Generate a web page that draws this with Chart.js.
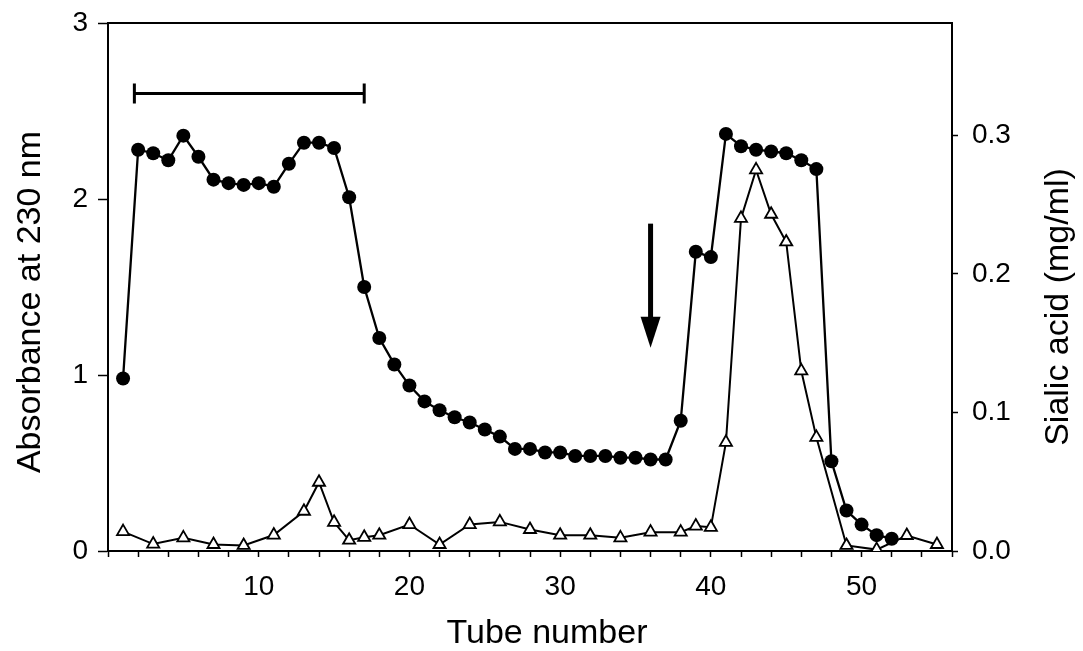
<!DOCTYPE html>
<html>
<head>
<meta charset="utf-8">
<script src="https://cdn.jsdelivr.net/npm/chart.js@4.4.1/dist/chart.umd.min.js"></script>
<style>
html,body{margin:0;padding:0;background:#fff;}
#wrap{width:1083px;height:651px;}
</style>
</head>
<body>
<div id="wrap"><canvas id="c" width="1083" height="651"></canvas></div>
<script>
// ---- data ----
const tubesAbs = [1,2,3,4,5,6,7,8,9,10,11,12,13,14,15,16,17,18,19,20,21,22,23,24,25,26,27,28,29,30,31,32,33,34,35,36,37,38,39,40,41,42,43,44,45,46,47,48,49,50,51,52];
const absorbance = [0.98,2.28,2.26,2.22,2.36,2.24,2.11,2.09,2.08,2.09,2.07,2.20,2.32,2.32,2.29,2.01,1.50,1.21,1.06,0.94,0.85,0.80,0.76,0.73,0.69,0.65,0.58,0.58,0.56,0.56,0.54,0.54,0.54,0.53,0.53,0.52,0.52,0.74,1.70,1.67,2.37,2.30,2.28,2.27,2.26,2.22,2.17,0.51,0.23,0.15,0.09,0.07];
const tubesSia = [1,3,5,7,9,11,13,14,15,16,17,18,20,22,24,26,28,30,32,34,36,38,39,40,41,42,43,44,45,46,47,49,51,53,55];
const sialic = [0.014,0.005,0.0095,0.0047,0.004,0.0115,0.0287,0.0496,0.0207,0.0078,0.0099,0.0114,0.0191,0.0047,0.0191,0.021,0.0155,0.0114,0.0114,0.0095,0.0136,0.0136,0.018,0.0171,0.0784,0.240,0.275,0.243,0.223,0.130,0.082,0.004,0.001,0.0112,0.0047];
const xTickLabels = [10,20,30,40,50];
const leftTicks = [0,1,2,3];
const rightTicks = [0.0,0.1,0.2,0.3];
// annotations (data units)
const barRange = [1.75, 17];
const barLevel = 2.60;
const arrowTube = 36;
const arrowFromTo = [1.86, 1.155];
const xTitle = 'Tube number';
const yLeftTitle = 'Absorbance at 230 nm';
const yRightTitle = 'Sialic acid (mg/ml)';

const FONT = '"Liberation Sans", Arial, Helvetica, sans-serif';

const absData = tubesAbs.map((t,i)=>({x:t,y:absorbance[i]}));
const siaData = tubesSia.map((t,i)=>({x:t,y:sialic[i]}));

const decor = {
  id:'decor',
  afterDraw(chart){
    const ctx = chart.ctx, a = chart.chartArea;
    const xs = chart.scales.x, yl = chart.scales.y;
    ctx.save();
    // top frame line
    ctx.strokeStyle='#000'; ctx.lineWidth=2;
    ctx.beginPath(); ctx.moveTo(a.left-1, a.top); ctx.lineTo(a.right+1, a.top); ctx.stroke();
    // horizontal bar
    const bx1 = xs.getPixelForValue(barRange[0]), bx2 = xs.getPixelForValue(barRange[1]);
    const by = yl.getPixelForValue(barLevel);
    ctx.lineWidth=3;
    ctx.beginPath(); ctx.moveTo(bx1,by); ctx.lineTo(bx2,by); ctx.stroke();
    ctx.beginPath(); ctx.moveTo(bx1,by-10); ctx.lineTo(bx1,by+10);
    ctx.moveTo(bx2,by-10); ctx.lineTo(bx2,by+10); ctx.stroke();
    // arrow
    const ax = xs.getPixelForValue(arrowTube);
    const ay1 = yl.getPixelForValue(arrowFromTo[0]), ay2 = yl.getPixelForValue(arrowFromTo[1]);
    ctx.lineWidth=5;
    ctx.beginPath(); ctx.moveTo(ax,ay1); ctx.lineTo(ax,ay2-26); ctx.stroke();
    ctx.fillStyle='#000';
    ctx.beginPath(); ctx.moveTo(ax-10,ay2-31); ctx.lineTo(ax+10,ay2-31); ctx.lineTo(ax,ay2); ctx.closePath(); ctx.fill();
    // titles
    ctx.fillStyle='#000';
    ctx.font = '34px ' + FONT;
    ctx.textAlign='center'; ctx.textBaseline='middle';
    ctx.fillText(xTitle, 547, 634);
    ctx.save(); ctx.translate(31, 302); ctx.rotate(-Math.PI/2); ctx.fillText(yLeftTitle,0,0); ctx.restore();
    ctx.save(); ctx.translate(1059, 307); ctx.rotate(-Math.PI/2); ctx.fillText(yRightTitle,0,0); ctx.restore();
    ctx.restore();
  }
};

function fixY(width){
  return function(s){ s.width = width; s.paddingTop = 0; s.paddingBottom = 0; };
}

new Chart(document.getElementById('c'), {
  type:'line',
  data:{datasets:[
    {data:siaData, yAxisID:'y2', borderColor:'#000', borderWidth:2, pointStyle:'triangle', pointRadius:7, pointBackgroundColor:'#fff', pointBorderColor:'#000', pointBorderWidth:1.8, tension:0, fill:false, order:1},
    {data:absData, yAxisID:'y', borderColor:'#000', borderWidth:2.3, pointStyle:'circle', pointRadius:7, pointBackgroundColor:'#000', pointBorderColor:'#000', pointBorderWidth:0, tension:0, fill:false, order:0}
  ]},
  options:{
    responsive:false, animation:false,
    layout:{padding:{top:23,left:0,right:0,bottom:0}},
    plugins:{legend:{display:false}, tooltip:{enabled:false}},
    scales:{
      x:{type:'linear', min:0, max:56, position:'bottom',
        afterFit(s){ s.height = 100; s.paddingLeft = 0; s.paddingRight = 0; },
        border:{display:true,color:'#000',width:2},
        grid:{drawOnChartArea:false, drawTicks:true, tickLength:6, color:'#000', tickWidth:1.5},
        ticks:{stepSize:2, autoSkip:false, maxRotation:0, padding:13, color:'#000', font:{family:FONT,size:28},
          callback:v=> xTickLabels.includes(v) ? String(v) : ''}
      },
      y:{type:'linear', position:'left', min:0, max:3,
        afterFit: fixY(108),
        afterBuildTicks(s){ s.ticks = leftTicks.map(v=>({value:v})); },
        border:{display:true,color:'#000',width:2},
        grid:{drawOnChartArea:false, drawTicks:true, tickLength:10, color:'#000', tickWidth:1.5},
        ticks:{padding:10, color:'#000', font:{family:FONT,size:28}, callback:v=>String(v)}
      },
      y2:{type:'linear', position:'right', min:0, max:0.381,
        afterFit: fixY(131),
        afterBuildTicks(s){ s.ticks = rightTicks.map(v=>({value:v})); },
        border:{display:true,color:'#000',width:2},
        grid:{drawOnChartArea:false, drawTicks:true, tickLength:6, color:'#000', tickWidth:1.5},
        ticks:{padding:14, color:'#000', font:{family:FONT,size:28}, callback:v=>Number(v).toFixed(1)}
      }
    }
  },
  plugins:[decor]
});
</script>
</body>
</html>
